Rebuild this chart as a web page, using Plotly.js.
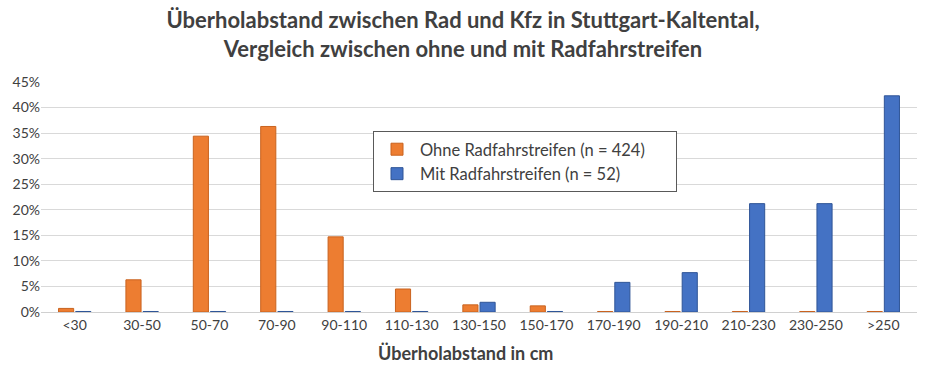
<!DOCTYPE html>
<html>
<head>
<meta charset="utf-8">
<script src="https://cdn.plot.ly/plotly-3.0.1.min.js"></script>
<style>html,body{margin:0;padding:0;background:#fff;}#chart{width:926px;height:367px;}</style>
</head>
<body>
<div id="chart"></div>
<script>
const categories = ["<30","30-50","50-70","70-90","90-110","110-130","130-150","150-170","170-190","190-210","210-230","230-250",">250"];
const ohneValues = [0.7, 6.3, 34.4, 36.3, 14.7, 4.5, 1.4, 1.2, 0.1, 0.1, 0.1, 0.1, 0.1];
const mitValues  = [0.1, 0.1, 0.1, 0.1, 0.1, 0.1, 1.9, 0.1, 5.8, 7.7, 21.2, 21.2, 42.3];
const seriesNames = ["Ohne Radfahrstreifen (n = 424)", "Mit Radfahrstreifen (n = 52)"];
const yTicks = [0,5,10,15,20,25,30,35,40,45];
const xTitle = 'Überholabstand in cm';

const txt = '#404040';
const pad = '\u00a0\u00a0\u00a0\u00a0\u00a0\u00a0';
const traces = [
  {type:'bar', name: seriesNames[0] + pad, x: categories, y: ohneValues,
   marker:{color:'#ED7D31', line:{color:'#C9631F', width:1}}},
  {type:'bar', name: seriesNames[1] + pad, x: categories, y: mitValues,
   marker:{color:'#4472C4', line:{color:'#2F5597', width:1}}}
];
const layout = {
  width:926, height:367,
  margin:{l:41, r:9, t:82, b:55},
  paper_bgcolor:'#fff', plot_bgcolor:'#fff',
  font:{family:'Lato, "Open Sans", sans-serif', color:'#595959', size:13},
  title:{text:'Überholabstand zwischen Rad und Kfz in Stuttgart-Kaltental,<br>Vergleich zwischen ohne und mit Radfahrstreifen',
         font:{family:'Lato, "Open Sans", sans-serif', size:22, color:txt, weight:'bold'},
         x:0.5, xanchor:'center', yref:'container', y:1-28/367, yanchor:'middle'},
  barmode:'group', bargap:0.49, bargroupgap:0.12,
  xaxis:{type:'category', showgrid:false, showline:true, linecolor:'#d0d0d0', linewidth:1,
         ticks:'', tickfont:{size:14, color:'#404040'}},
  yaxis:{range:[0,45], tickvals:yTicks, ticktext:yTicks.map(v=>v+'%'), showgrid:true, gridcolor:'#d9d9d9',
         zeroline:false, showline:false, ticks:'', tickfont:{size:14, color:'#404040'}},
  annotations:[{text:xTitle, xref:'paper', yref:'paper', x:(465-41)/876, y:-(353-312)/230,
                xanchor:'center', yanchor:'middle', showarrow:false,
                font:{size:18, color:txt, weight:'bold'}}],
  showlegend:true,
  legend:{x:0.379, y:0.787, xanchor:'left', yanchor:'top', bgcolor:'#fff', bordercolor:'#595959', borderwidth:1,
          font:{size:16.5, color:txt}, traceorder:'normal', itemwidth:36}
};
Plotly.newPlot('chart', traces, layout, {displayModeBar:false, staticPlot:true});
</script>
</body>
</html>
